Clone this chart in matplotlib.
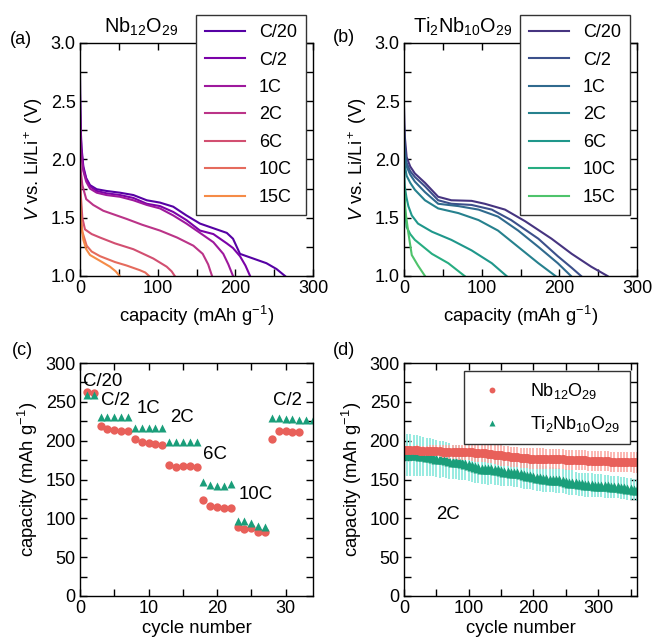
import numpy as np
import matplotlib.pyplot as plt
from matplotlib.ticker import MultipleLocator

plt.rcParams['font.family'] = 'Liberation Sans'
plt.rcParams['mathtext.fontset'] = 'custom'
plt.rcParams['mathtext.rm'] = 'Liberation Sans'
plt.rcParams['mathtext.it'] = 'Liberation Sans:italic'
plt.rcParams['axes.linewidth'] = 1.0

rates = ['C/20', 'C/2', '1C', '2C', '6C', '10C', '15C']

# discharge curves, Nb12O29 (capacity in mAh/g, voltage in V)
nb_cap = [
    [0, 0.5, 1, 2, 4.3, 8, 12.9, 21.5, 34, 51.5, 68.7, 86, 103, 120, 137, 154.5, 171.7, 189, 197, 206, 223, 240, 253, 264],
    [0, 0.5, 1, 2, 4.3, 8, 12.9, 21.5, 34, 51.5, 68.7, 86, 103, 120, 137, 154.5, 171.7, 189, 197, 206, 213, 219],
    [0, 0.5, 1, 2, 4.3, 8, 12.9, 21.5, 34, 51.5, 68.7, 86, 103, 120, 137, 154.5, 171.7, 184.5, 191, 197],
    [0, 1, 3, 8, 17, 30, 60, 80, 103, 125, 146, 158, 165, 170],
    [0, 1, 3, 6.4, 15, 25.8, 45, 68.7, 94.4, 111.6, 118, 122],
    [0, 1, 3, 8.6, 15, 25.8, 45, 60, 77, 84, 89],
    [0, 0.5, 1.5, 4.3, 8, 12.9, 25.8, 38.6, 46, 51],
]
nb_volt = [
    [2.72, 2.45, 2.25, 2.10, 1.94, 1.84, 1.78, 1.745, 1.73, 1.715, 1.695, 1.65, 1.63, 1.595, 1.52, 1.45, 1.41, 1.37, 1.32, 1.19, 1.15, 1.11, 1.06, 1.0],
    [2.55, 2.35, 2.2, 2.07, 1.92, 1.83, 1.77, 1.73, 1.71, 1.695, 1.67, 1.62, 1.60, 1.55, 1.48, 1.39, 1.36, 1.28, 1.24, 1.17, 1.09, 1.0],
    [2.4, 2.25, 2.12, 2.03, 1.9, 1.81, 1.75, 1.715, 1.695, 1.68, 1.65, 1.61, 1.58, 1.52, 1.45, 1.37, 1.29, 1.19, 1.1, 1.0],
    [2.05, 1.9, 1.78, 1.66, 1.61, 1.56, 1.49, 1.44, 1.39, 1.33, 1.26, 1.19, 1.1, 1.0],
    [1.95, 1.7, 1.5, 1.40, 1.36, 1.33, 1.28, 1.23, 1.15, 1.08, 1.04, 1.0],
    [1.85, 1.55, 1.38, 1.26, 1.21, 1.17, 1.12, 1.09, 1.05, 1.03, 1.0],
    [1.75, 1.6, 1.45, 1.31, 1.23, 1.18, 1.13, 1.08, 1.04, 1.0],
]

# discharge curves, Ti2Nb10O29
ti_cap = [
    [0, 1, 3.4, 8, 14, 27, 44, 61, 87, 104, 130, 156, 190, 216, 241, 262],
    [0, 1, 3.4, 8, 14, 27, 44, 61, 87, 113, 138, 173, 198, 216, 228],
    [0, 1, 3.4, 8, 14, 27, 44, 70, 96, 121, 147, 173, 198, 215],
    [0, 1, 3.4, 8, 14, 27, 44, 70, 96, 121, 147, 173, 195],
    [0, 1, 3, 5.6, 10, 18, 36, 61, 87, 113, 132],
    [0, 1, 3.4, 8, 14, 36, 57, 78],
    [0, 2, 5.6, 10, 18, 27],
]
ti_volt = [
    [2.45, 2.2, 2.02, 1.94, 1.88, 1.80, 1.68, 1.65, 1.645, 1.62, 1.57, 1.47, 1.32, 1.19, 1.08, 1.0],
    [2.3, 2.12, 1.97, 1.9, 1.85, 1.77, 1.65, 1.62, 1.61, 1.57, 1.48, 1.32, 1.17, 1.07, 1.0],
    [2.2, 2.05, 1.94, 1.87, 1.81, 1.72, 1.62, 1.60, 1.57, 1.51, 1.39, 1.25, 1.11, 1.0],
    [2.1, 1.95, 1.86, 1.80, 1.74, 1.65, 1.58, 1.54, 1.48, 1.39, 1.25, 1.11, 1.0],
    [1.95, 1.77, 1.68, 1.60, 1.52, 1.45, 1.38, 1.31, 1.22, 1.11, 1.0],
    [1.8, 1.6, 1.42, 1.36, 1.31, 1.19, 1.11, 1.0],
    [1.75, 1.55, 1.37, 1.18, 1.09, 1.0],
]

# rate capability (cycle index, capacity in mAh/g)
nb_rate_cycle = [1, 2, 3, 4, 5, 6, 7, 8, 9, 10, 11, 12, 13, 14, 15, 16, 17, 18, 19, 20,
                 21, 22, 23, 24, 25, 26, 27, 28, 29, 30, 31, 32]
nb_rate_cap = [263, 261, 219, 215, 214, 213, 213, 202, 198, 197, 196, 194, 169, 166, 168, 168, 166,
               123, 116, 114, 113, 113, 89, 86, 87, 83, 83, 202, 213, 212, 211, 211]
ti_rate_cycle = [1, 2, 3, 4, 5, 6, 7, 8, 9, 10, 11, 12, 13, 14, 15, 16, 17, 18, 19, 20,
                 21, 22, 23, 24, 25, 26, 27, 28, 29, 30, 31, 32, 33, 34]
ti_rate_cap = [259, 259, 231, 231, 230, 230, 230, 216, 216, 216, 216, 216, 198, 198, 198, 198, 198,
               147, 143, 142, 142, 144, 97, 97, 94, 90, 89, 229, 229, 228, 228, 227, 227, 226]
rate_labels = ['C/20', 'C/2', '1C', '2C', '6C', '10C', 'C/2']
rate_label_x = [0.4, 3.1, 8.2, 13.2, 18.0, 23.2, 28.2]
rate_label_y = [276, 252, 241, 230, 182, 131, 252]

# long cycling at 2C (every 5th cycle)
cycles = np.arange(0, 361, 5)
nb_mean = [188, 188, 188, 188, 188, 187, 187, 187, 187, 187,
           187, 187, 186, 186, 186, 186, 186, 185, 185, 185,
           185, 185, 184, 184, 184, 184, 183, 183, 182, 182,
           181, 180, 180, 179, 179, 179, 178, 178, 178, 177,
           177, 177, 177, 177, 176, 176, 176, 176, 176, 176,
           175, 175, 175, 175, 175, 175, 175, 174, 174, 174,
           174, 174, 174, 174, 173, 173, 173, 173, 173, 173,
           173, 172, 172]
nb_err = [5, 5, 5, 5, 6, 6, 6, 6, 7, 7,
          7, 8, 8, 8, 9, 9, 9, 10, 10, 10,
          10, 11, 11, 11, 12, 12, 12, 12, 12, 13,
          13, 13, 13, 13, 13, 13, 13, 13, 13, 13,
          13, 13, 13, 13, 13, 13, 13, 13, 13, 13,
          13, 13, 13, 13, 13, 13, 13, 13, 13, 13,
          13, 13, 13, 13, 13, 13, 13, 13, 13, 13,
          13, 13, 13]
ti_mean = [181, 181, 181, 181, 181, 180, 180, 179, 179, 178,
           177, 176, 176, 175, 174, 173, 173, 172, 171, 170,
           169, 168, 166, 165, 164, 164, 163, 163, 162, 162,
           161, 160, 160, 159, 158, 158, 157, 156, 155, 155,
           153, 152, 152, 151, 151, 150, 150, 149, 149, 148,
           147, 146, 146, 145, 144, 144, 143, 143, 143, 142,
           142, 142, 141, 141, 140, 140, 140, 139, 139, 138,
           138, 137, 136]
ti_err = [27, 27, 27, 26, 26, 26, 25, 25, 25, 24,
          24, 24, 23, 23, 23, 22, 22, 22, 22, 21,
          21, 21, 21, 20, 20, 20, 20, 19, 19, 19,
          19, 19, 18, 18, 18, 18, 18, 18, 17, 17,
          17, 17, 17, 17, 17, 16, 16, 16, 16, 16,
          16, 16, 16, 15, 15, 15, 15, 15, 15, 15,
          15, 15, 15, 15, 14, 14, 14, 14, 14, 14,
          14, 14, 14]

red = '#e8605a'
green = '#1a9e7a'

fig = plt.figure(figsize=(6.54, 6.37), dpi=100)
W, H = 654, 637
def rect(x0, y0, w=233, h=233):
    return [x0 / W, 1 - (y0 + h) / H, w / W, h / H]

ax_a = fig.add_axes(rect(80, 43))
ax_b = fig.add_axes(rect(404, 43))
ax_c = fig.add_axes(rect(80, 363))
ax_d = fig.add_axes(rect(404, 363))

def style(ax, xmaj, xmin, ymaj, ymin):
    ax.xaxis.set_major_locator(MultipleLocator(xmaj))
    ax.xaxis.set_minor_locator(MultipleLocator(xmin))
    ax.yaxis.set_major_locator(MultipleLocator(ymaj))
    ax.yaxis.set_minor_locator(MultipleLocator(ymin))
    ax.tick_params(which='both', direction='in', top=True, right=True,
                   labelsize=13, width=1.0, pad=3)
    ax.tick_params(which='major', length=5)
    ax.tick_params(which='minor', length=5)

# (a) and (b): voltage profiles
for ax, caps, volts, cmap, title, tx in [
        (ax_a, nb_cap, nb_volt, plt.cm.plasma, r'Nb$_{12}$O$_{29}$', 0.26),
        (ax_b, ti_cap, ti_volt, plt.cm.viridis, r'Ti$_2$Nb$_{10}$O$_{29}$', 0.25)]:
    colors = cmap(np.linspace(0.15, 0.72, len(rates)))
    for c, v, col, lab in zip(caps, volts, colors, rates):
        ax.plot(c, v, color=col, lw=1.5, label=lab)
    ax.set_xlim(0, 300)
    ax.set_ylim(1.0, 3.0)
    style(ax, 100, 50, 0.5, 0.25)
    ax.set_xlabel(r'capacity (mAh g$^{-1}$)', fontsize=13.3, labelpad=5)
    ax.set_ylabel(r'$V$ vs. Li/Li$^+$ (V)', fontsize=13.3, labelpad=4)
    ax.text(tx, 1.07, title, transform=ax.transAxes, ha='center', va='center', fontsize=14.3)
    leg = ax.legend(loc='upper right', bbox_to_anchor=(0.97, 1.12), fontsize=13,
                    frameon=True, fancybox=False, edgecolor='#333333', framealpha=1,
                    handlelength=2.2, handletextpad=0.8, labelspacing=0.58,
                    borderpad=0.5, borderaxespad=0)
    leg.get_frame().set_linewidth(1.0)
    leg.set_zorder(5)

# (c): rate capability
ax_c.plot(nb_rate_cycle, nb_rate_cap, 'o', color=red, ms=6, mec='none', clip_on=False)
ax_c.plot(ti_rate_cycle, ti_rate_cap, '^', color=green, ms=6, mec='none')
for lab, x, y in zip(rate_labels, rate_label_x, rate_label_y):
    ax_c.text(x, y, lab, ha='left', va='center', fontsize=13.4)
ax_c.set_xlim(0, 34)
ax_c.set_ylim(0, 300)
style(ax_c, 10, 5, 50, 25)
ax_c.set_xlabel('cycle number', fontsize=13.3, labelpad=2)
ax_c.set_ylabel(r'capacity (mAh g$^{-1}$)', fontsize=13.3, labelpad=4)

# (d): long-term cycling at 2C
ax_d.errorbar(cycles, ti_mean, yerr=ti_err, fmt='none', ecolor='#86e8dc', elinewidth=1.2)
ax_d.plot(cycles, ti_mean, '^', color=green, ms=6.5, mec='none', label=r'Ti$_2$Nb$_{10}$O$_{29}$')
ax_d.errorbar(cycles, nb_mean, yerr=nb_err, fmt='none', ecolor='#fcaaa4', elinewidth=1.2)
ax_d.plot(cycles, nb_mean, 'o', color=red, ms=6.5, mec='none', label=r'Nb$_{12}$O$_{29}$')
ax_d.text(68, 105, '2C', ha='center', va='center', fontsize=13.4)
ax_d.set_xlim(0, 360)
ax_d.set_ylim(0, 300)
style(ax_d, 100, 50, 50, 25)
ax_d.set_xlabel('cycle number', fontsize=13.3, labelpad=2)
ax_d.set_ylabel(r'capacity (mAh g$^{-1}$)', fontsize=13.3, labelpad=4)
h, l = ax_d.get_legend_handles_labels()
leg = ax_d.legend(h[::-1], l[::-1], loc='upper right', bbox_to_anchor=(0.97, 0.966),
                  fontsize=13, frameon=True, fancybox=False, edgecolor='#333333',
                  framealpha=1, markerscale=0.65, handletextpad=1.1, labelspacing=0.75,
                  borderpad=0.55, borderaxespad=0)
leg.get_frame().set_linewidth(1.0)

for ax, lab, x, y in [(ax_a, '(a)', 10, 39), (ax_b, '(b)', 333, 37),
                      (ax_c, '(c)', 12, 350), (ax_d, '(d)', 333, 350)]:
    fig.text(x / W, 1 - y / H, lab, ha='left', va='center', fontsize=13)

fig.savefig('out.png', dpi=100)
